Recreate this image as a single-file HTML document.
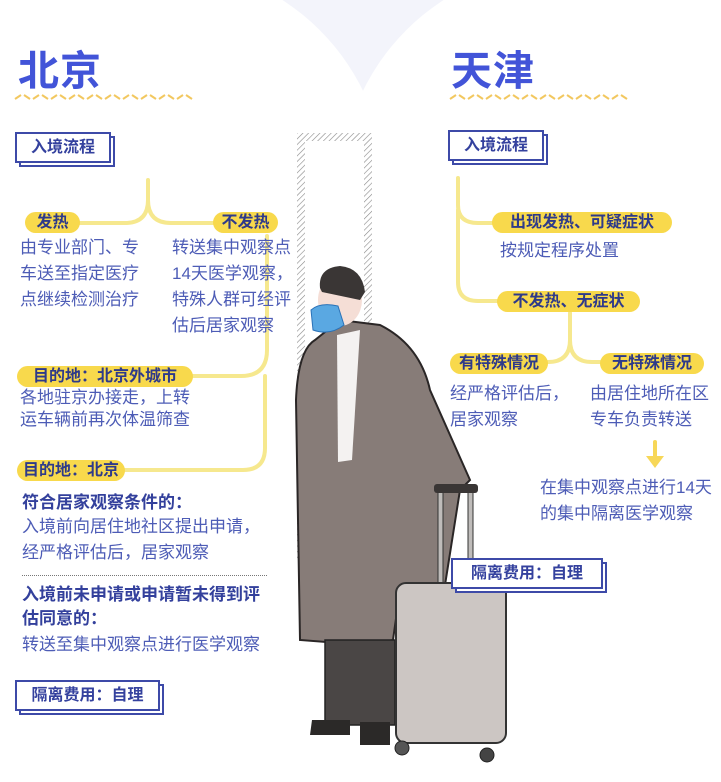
<!DOCTYPE html>
<html><head><meta charset="utf-8">
<style>
body{margin:0;width:721px;height:782px;overflow:hidden;background:#fff;position:relative;font-family:"Liberation Sans","Noto Sans CJK SC",sans-serif;}
.t{position:absolute;white-space:nowrap;}
.title{font-size:41px;font-weight:bold;color:#4254d8;letter-spacing:1px;}
.txt{font-size:17px;color:#4d5cb6;line-height:26px;}
.bold{font-size:17px;font-weight:bold;color:#33409c;line-height:24px;}
.pill{position:absolute;background:#f8d94c;border-radius:11px;height:21px;line-height:21px;font-size:16px;font-weight:bold;color:#2e3a8a;text-align:center;white-space:nowrap;}
.box{position:absolute;}
.box .s{position:absolute;left:4px;top:4px;right:-4px;bottom:-4px;border:2px solid #3d4aa8;background:#fff;}
.box .m{position:absolute;left:0;top:0;right:0;bottom:0;border:2px solid #3d4aa8;background:#fff;font-size:16px;font-weight:bold;color:#34419e;text-align:center;}
</style></head><body>
<svg width="721" height="782" style="position:absolute;left:0;top:0">
<defs>
<pattern id="h" width="4" height="4" patternUnits="userSpaceOnUse" patternTransform="rotate(45)"><rect width="4" height="4" fill="#fff"/><line x1="0" y1="0" x2="0" y2="4" stroke="#888" stroke-width="1.2"/></pattern>
</defs>
<rect x="240" y="0" width="260" height="120" fill="#f3f4fb"/>
<circle cx="160" cy="190" r="226" fill="#fff"/>
<circle cx="566" cy="190" r="226" fill="#fff"/>
<g stroke="#f2c860" stroke-width="2" fill="none">
<path d="M15 99 l6-4 M24 95 l6 4 M33 99 l6-4 M42 95 l6 4 M51 99 l6-4 M60 95 l6 4 M69 99 l6-4 M78 95 l6 4 M87 99 l6-4 M96 95 l6 4 M105 99 l6-4 M114 95 l6 4 M123 99 l6-4 M132 95 l6 4 M141 99 l6-4 M150 95 l6 4 M159 99 l6-4 M168 95 l6 4 M177 99 l6-4 M186 95 l6 4"/>
<path d="M450 99 l6-4 M459 95 l6 4 M468 99 l6-4 M477 95 l6 4 M486 99 l6-4 M495 95 l6 4 M504 99 l6-4 M513 95 l6 4 M522 99 l6-4 M531 95 l6 4 M540 99 l6-4 M549 95 l6 4 M558 99 l6-4 M567 95 l6 4 M576 99 l6-4 M585 95 l6 4 M594 99 l6-4 M603 95 l6 4 M612 99 l6-4 M621 95 l6 4"/>
</g>
<g stroke="#f6e88e" stroke-width="4" fill="none" stroke-linecap="round">
<path d="M148 180 V200 Q148 223 125 223 H80"/>
<path d="M148 200 Q148 223 171 223 H213"/>
<path d="M267 236 V350 Q267 376 241 376 H193"/>
<path d="M265 376 V448 Q265 470 243 470 H125"/>
<path d="M458 178 V205 Q458 223 478 223 H492"/>
<path d="M458 210 V282 Q458 301 478 301 H497"/>
<path d="M570 313 V340 Q570 362 548 362"/>
<path d="M570 340 Q570 362 592 362 H600"/>
<path d="M655 442 V458" stroke="#f7d758"/>
</g>
<polygon points="646,456 664,456 655,468" fill="#f7d758"/>
<path d="M297 133 H372 V560 H364 V141 H305 V560 H297 Z" fill="url(#h)"/>
<path d="M315 340 Q298 350 296 400 L300 640 L365 645 L393 640 L400 590 L445 585 L460 490 L470 480 L430 390 Q420 345 380 325 L340 320 Z" fill="#877c78" stroke="#2a2626" stroke-width="2"/>
<path d="M337 335 L360 330 L352 460 L338 462 Z" fill="#f4f2f1"/>
<path d="M325 640 H395 V725 H325 Z" fill="#4a4645" stroke="#222" stroke-width="1.5"/>
<path d="M312 720 H350 V735 H310 Z M360 722 H390 V745 H360 Z" fill="#2b2928"/>
<ellipse cx="340" cy="300" rx="22" ry="26" fill="#f5ded6"/>
<path d="M320 288 Q318 268 340 266 Q362 268 365 292 L360 300 L322 292 Z" fill="#3a3635"/>
<path d="M311 310 Q320 302 338 306 L344 325 Q330 336 313 330 Z" fill="#5aa8e2" stroke="#2a72b8"/>
<rect x="438" y="488" width="5" height="100" fill="#bfbcba" stroke="#333"/>
<rect x="468" y="488" width="5" height="100" fill="#bfbcba" stroke="#333"/>
<rect x="434" y="484" width="44" height="9" rx="3" fill="#3a3635"/>
<rect x="396" y="583" width="110" height="160" rx="10" fill="#ccc6c3" stroke="#333" stroke-width="2"/>
<circle cx="402" cy="748" r="7" fill="#555" stroke="#222"/>
<circle cx="487" cy="755" r="7" fill="#444" stroke="#222"/>
</svg>

<div class="t title" style="left:18px;top:37px">北京</div>
<div class="t title" style="left:451px;top:37px">天津</div>

<div class="box" style="left:15px;top:132px;width:96px;height:31px"><div class="s"></div><div class="m" style="line-height:27px">入境流程</div></div>
<div class="box" style="left:448px;top:130px;width:96px;height:31px"><div class="s"></div><div class="m" style="line-height:27px">入境流程</div></div>

<div class="pill" style="left:25px;top:212px;width:55px">发热</div>
<div class="pill" style="left:213px;top:212px;width:65px">不发热</div>
<div class="t txt" style="left:20px;top:235px">由专业部门、专<br>车送至指定医疗<br>点继续检测治疗</div>
<div class="t txt" style="left:172px;top:235px">转送集中观察点<br>14天医学观察，<br>特殊人群可经评<br>估后居家观察</div>

<div class="pill" style="left:17px;top:366px;width:176px">目的地：北京外城市</div>
<div class="t txt" style="left:20px;top:387px;line-height:22px">各地驻京办接走，上转<br>运车辆前再次体温筛查</div>
<div class="pill" style="left:17px;top:460px;width:108px">目的地：北京</div>
<div class="t bold" style="left:22px;top:491px">符合居家观察条件的：</div>
<div class="t txt" style="left:22px;top:514px">入境前向居住地社区提出申请，<br>经严格评估后，居家观察</div>
<div style="position:absolute;left:22px;top:575px;width:245px;border-top:1px dotted #777"></div>
<div class="t bold" style="left:22px;top:583px">入境前未申请或申请暂未得到评<br>估同意的：</div>
<div class="t txt" style="left:22px;top:632px">转送至集中观察点进行医学观察</div>
<div class="box" style="left:15px;top:680px;width:145px;height:31px"><div class="s"></div><div class="m" style="line-height:27px">隔离费用：自理</div></div>

<div class="pill" style="left:492px;top:212px;width:180px">出现发热、可疑症状</div>
<div class="t txt" style="left:500px;top:238px">按规定程序处置</div>
<div class="pill" style="left:497px;top:291px;width:143px">不发热、无症状</div>
<div class="pill" style="left:450px;top:353px;width:98px">有特殊情况</div>
<div class="pill" style="left:600px;top:353px;width:104px">无特殊情况</div>
<div class="t txt" style="left:450px;top:381px">经严格评估后，<br>居家观察</div>
<div class="t txt" style="left:590px;top:381px">由居住地所在区<br>专车负责转送</div>
<div class="t txt" style="left:540px;top:475px">在集中观察点进行14天<br>的集中隔离医学观察</div>
<div class="box" style="left:451px;top:558px;width:152px;height:31px"><div class="s"></div><div class="m" style="line-height:27px">隔离费用：自理</div></div>
</body></html>
